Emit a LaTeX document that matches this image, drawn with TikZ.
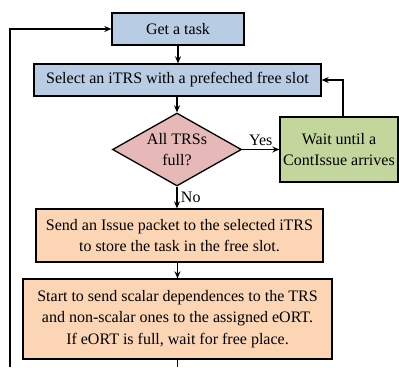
\documentclass[tikz,border=0pt]{standalone}
\usepackage{fontspec}
\setmainfont{Liberation Serif}
\usetikzlibrary{positioning, calc, arrows.meta, shapes.geometric}

\definecolor{taskblue}{RGB}{184,204,228}
\definecolor{testpink}{RGB}{230,184,183}
\definecolor{waitgreen}{RGB}{195,214,155}
\definecolor{sendorange}{RGB}{252,213,181}

\begin{document}
\begin{tikzpicture}[x=1pt, y=-1pt, >={Stealth[length=7pt,width=6pt]}, line width=1.3pt,
    box/.style={draw, rectangle, inner sep=0pt, align=center, font=\rmfamily\fontsize{16}{21.5}\selectfont},
    test/.style={draw, diamond, inner sep=0pt, aspect=1.77, align=center, font=\rmfamily\fontsize{16}{21}\selectfont}]

    \useasboundingbox (0,0) rectangle (399,367);

    % ================= Boxes =================
    \node[box, fill=taskblue, minimum width=132pt, minimum height=32pt] (get) at (178,29) {Get a task};
    \node[box, fill=taskblue, minimum width=287pt, minimum height=32pt] (select) at (177.5,80) {Select an iTRS with a prefeched free slot};
    \node[test, fill=testpink, minimum width=129pt, minimum height=73pt] (full) at (177,149.5) {All TRSs\\full?};
    \node[box, fill=waitgreen, minimum width=118pt, minimum height=65pt] (wait) at (339,149.5) {Wait until a\\ContIssue arrives};
    \node[box, fill=sendorange, minimum width=287pt, minimum height=53pt] (send) at (179.5,235.5) {Send an Issue packet to the selected iTRS\\to store the task in the free slot.};
    \node[box, fill=sendorange, minimum width=309pt, minimum height=80pt] (start) at (177.5,319) {Start to send scalar dependences to the TRS\\and non-scalar ones to the assigned eORT.\\If eORT is full, wait for free place.};

    % ================= Connectors =================
    \draw[->] (get.south) -- (get.south |- select.north);
    \draw[->] (select.south -| full.north) -- (full.north);
    \draw[->] (full.east) -- (wait.west) node[midway, above, font=\rmfamily\fontsize{16}{18}\selectfont] {Yes};
    \draw[->] ([xshift=4pt]wait.north) |- (select.east);
    \draw[->] (full.south) -- (full.south |- send.north) node[midway, right, font=\rmfamily\fontsize{16}{18}\selectfont] {No};
    \draw[->] (send.south -| start.north) -- (start.north);

    % loop back to the first task
    \coordinate (startfoot) at (start.south |- 0,367);
    \coordinate (loopfoot) at (10,367);
    \draw (start.south) -- (startfoot);
    \draw[->] (loopfoot) |- (get.west);

\end{tikzpicture}
\end{document}
